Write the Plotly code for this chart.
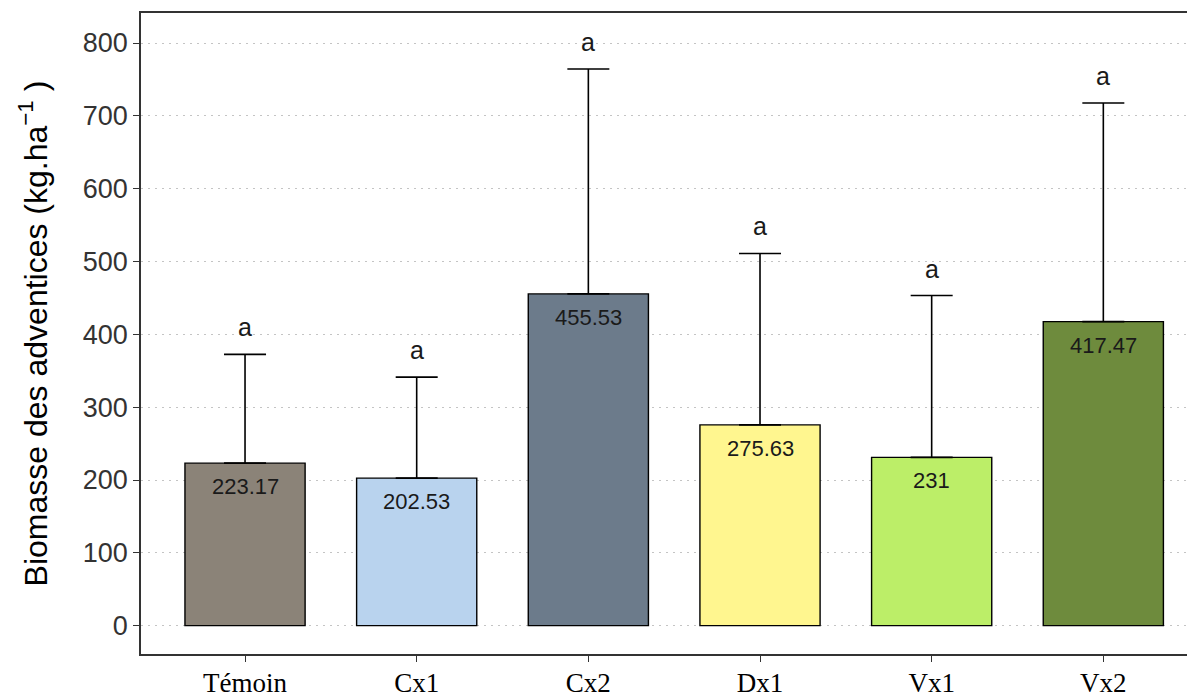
import plotly.graph_objects as go

categories = ["Témoin", "Cx1", "Cx2", "Dx1", "Vx1", "Vx2"]
means = [223.17, 202.53, 455.53, 275.63, 231, 417.47]
mean_labels = ["223.17", "202.53", "455.53", "275.63", "231", "417.47"]
upper = [372.5, 341.2, 764.3, 511.0, 453.3, 717.6]
letters = ["a", "a", "a", "a", "a", "a"]
colors = ["#8B8378", "#B9D3EE", "#6C7B8B", "#FFF68F", "#BCEE68", "#6E8B3D"]

err_plus = [u - m for u, m in zip(upper, means)]

fig = go.Figure()
fig.add_trace(go.Bar(
    x=categories, y=means, width=0.7,
    marker=dict(color=colors, line=dict(color="black", width=1.4)),
    error_y=dict(type="data", symmetric=False, array=err_plus,
                 arrayminus=[0] * len(means), color="black", thickness=1.6, width=21),
    showlegend=False, hoverinfo="skip",
))

for c, m, lab in zip(categories, means, mean_labels):
    fig.add_annotation(x=c, y=m, text=lab, showarrow=False, yshift=-23.5,
                       yanchor="middle",
                       font=dict(family="Liberation Sans, Arial", size=22, color="#1a1a1a"))
for c, u, l in zip(categories, upper, letters):
    fig.add_annotation(x=c, y=u, text=l, showarrow=False, yshift=27,
                       yanchor="middle",
                       font=dict(family="Liberation Sans, Arial", size=25, color="#1a1a1a"))

# page body has an 8px margin: compensate so the plot frame lands where the reference has it
fig.update_layout(
    width=1195, height=693,
    margin=dict(l=133, r=8, t=5, b=47),
    plot_bgcolor="white", paper_bgcolor="white",
    bargap=0.3,
)
fig.update_xaxes(
    type="category", range=[-0.606, 5.534], automargin=False,
    showline=True, linecolor="#333333", linewidth=1.6, mirror=True,
    ticks="outside", ticklen=6, tickcolor="#333333", tickwidth=1.3,
    ticklabelstandoff=-2,
    tickfont=dict(family="Liberation Serif, Times New Roman", size=27, color="black"),
    showgrid=False, zeroline=False,
)
fig.update_yaxes(
    range=[-38.9, 841.2], automargin=False,
    tickvals=[0, 100, 200, 300, 400, 500, 600, 700, 800],
    showline=True, linecolor="#333333", linewidth=1.6,
    ticks="outside", ticklen=6, tickcolor="#333333", tickwidth=1.3,
    tickfont=dict(family="Liberation Sans, Arial", size=27, color="#333333"),
    showgrid=True, gridcolor="#c4c4c4", griddash="1.5px,5.5px", gridwidth=1.4,
    zeroline=False,
    title=dict(text="Biomasse des adventices (kg.ha<sup>−1</sup> )",
               font=dict(family="Liberation Sans, Arial", size=32, color="black"),
               standoff=26),
)

fig.write_html("out.html")
